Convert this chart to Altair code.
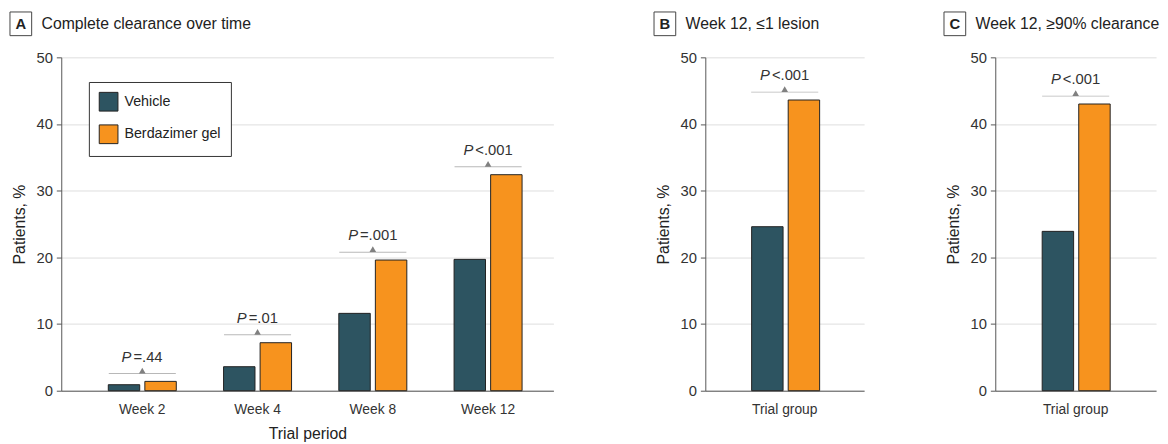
import altair as alt
import pandas as pd

# ---- data ----
weeks = ["Week 2", "Week 4", "Week 8", "Week 12"]
groups = ["Vehicle", "Berdazimer gel"]
vehicle_a = [0.9, 3.6, 11.6, 19.7]
berdazimer_a = [1.4, 7.2, 19.6, 32.4]
pvals_a = ["=.44", "=.01", "=.001", "<.001"]

vehicle_b = [24.6]
berdazimer_b = [43.6]
pvals_b = ["<.001"]

vehicle_c = [23.9]
berdazimer_c = [43.0]
pvals_c = ["<.001"]

colors = ["#2D5461", "#F7931E"]
FONT = "Liberation Sans"
H = 338


def bar_df(cats, veh, berd):
    rows = []
    for c, v, b in zip(cats, veh, berd):
        rows.append({"cat": c, "group": groups[0], "value": v})
        rows.append({"cat": c, "group": groups[1], "value": b})
    return pd.DataFrame(rows)


def ann_df(cats, veh, berd, pv):
    return pd.DataFrame({"cat": cats, "top": [max(a, b) for a, b in zip(veh, berd)], "p": pv})


def text_width(s):
    w = 0
    for ch in s:
        w += 4 if ch == "." else 8
    return w


def panel(cats, veh, berd, pv, letter, title, width, xscale, xtitle, legend):
    df = bar_df(cats, veh, berd)
    ann = ann_df(cats, veh, berd, pv)
    xenc = alt.X("cat:N", sort=cats, scale=xscale,
                 axis=alt.Axis(title=xtitle, ticks=False, labelAngle=0, labelPadding=12,
                               labelFontSize=14, titleFontSize=16, titlePadding=9,
                               titleFontWeight="normal"))
    yenc = alt.Y("value:Q", scale=alt.Scale(domain=[0, 50], nice=False),
                 axis=alt.Axis(title="Patients, %", values=[0, 10, 20, 30, 40, 50],
                               tickSize=5, labelPadding=4, titlePadding=9,
                               labelFontSize=15, titleFontSize=16, titleFontWeight="normal"))
    color = alt.Color("group:N", sort=groups, scale=alt.Scale(domain=groups, range=colors),
                      legend=legend)
    bars = alt.Chart(df).mark_bar(stroke="#222222", strokeWidth=1).encode(
        x=xenc,
        xOffset=alt.XOffset("group:N", sort=groups, scale=alt.Scale(paddingInner=0.14, paddingOuter=0)),
        y=yenc,
        color=color,
    )
    abase = alt.Chart(ann).encode(x=alt.X("cat:N", sort=cats), y=alt.Y("top:Q"))
    line = abase.mark_tick(size=68, thickness=1, color="#9a9a9a", yOffset=-8)
    tri = abase.mark_point(shape="triangle-up", filled=True, size=45, color="#808080",
                           opacity=1, yOffset=-11)
    layers = [bars, line, tri]
    for c, p in zip(cats, pv):
        rw = text_width(p)
        rest_dx = (10 - rw) / 2
        sub = abase.transform_filter(alt.datum.cat == c)
        layers.append(sub.mark_text(text="P", fontStyle="italic", align="right", baseline="middle",
                                    dx=rest_dx - 2, yOffset=-25, fontSize=15, font=FONT,
                                    color="#333333"))
        layers.append(sub.mark_text(align="left", baseline="middle", dx=rest_dx, yOffset=-25,
                                    fontSize=15, font=FONT, color="#333333").encode(text="p:N"))
    # panel heading: boxed letter + title
    one = pd.DataFrame({"k": [0]})
    hb = alt.Chart(one)
    box = hb.mark_rect(fill="white", stroke="#444444", strokeWidth=1).encode(
        x=alt.value(-52), x2=alt.value(-30), y=alt.value(-46), y2=alt.value(-22))
    let = hb.mark_text(text=letter, fontWeight="bold", fontSize=15, font=FONT, color="#222222",
                       align="center", baseline="middle").encode(x=alt.value(-41), y=alt.value(-34))
    ttl = hb.mark_text(text=title, fontSize=16, font=FONT, color="#222222",
                       align="left", baseline="middle").encode(x=alt.value(-20), y=alt.value(-34))
    layers += [box, let, ttl]
    return alt.layer(*layers).properties(width=width, height=H)


legend_a = alt.Legend(title=None, orient="none", legendX=28, legendY=25, symbolType="square",
                      symbolSize=360, symbolStrokeColor="#222222", symbolStrokeWidth=1,
                      labelFontSize=14.5, labelFont=FONT, labelColor="#222222", rowPadding=9,
                      strokeColor="#333333", fillColor="white", padding=10, labelOffset=6,
                      offset=0)

pA = panel(weeks, vehicle_a, berdazimer_a, pvals_a, "A", "Complete clearance over time", 499,
           alt.Scale(paddingInner=0.41, paddingOuter=0.34, align=0.6), "Trial period", legend_a)
pB = panel(["Trial group"], vehicle_b, berdazimer_b, pvals_b, "B", "Week 12, ≤1 lesion", 161,
           alt.Scale(paddingInner=0, paddingOuter=0.7), None, None)
pC = panel(["Trial group"], vehicle_c, berdazimer_c, pvals_c, "C", "Week 12, ≥90% clearance", 163,
           alt.Scale(paddingInner=0, paddingOuter=0.7), None, None)

chart = alt.hconcat(pA, alt.hconcat(pB, pC, spacing=80), spacing=101).resolve_legend(
    color="independent"
).properties(
    padding={"left": 1, "top": 0, "right": 0, "bottom": 0}
).configure_view(stroke=None).configure_axis(
    labelFont=FONT, titleFont=FONT, labelColor="#333333", titleColor="#222222",
    domainColor="#555555", tickColor="#555555", gridColor="#dddddd",
).configure_axisX(grid=False)

chart.save("out.html", embed_options={"renderer": "svg", "actions": False})
